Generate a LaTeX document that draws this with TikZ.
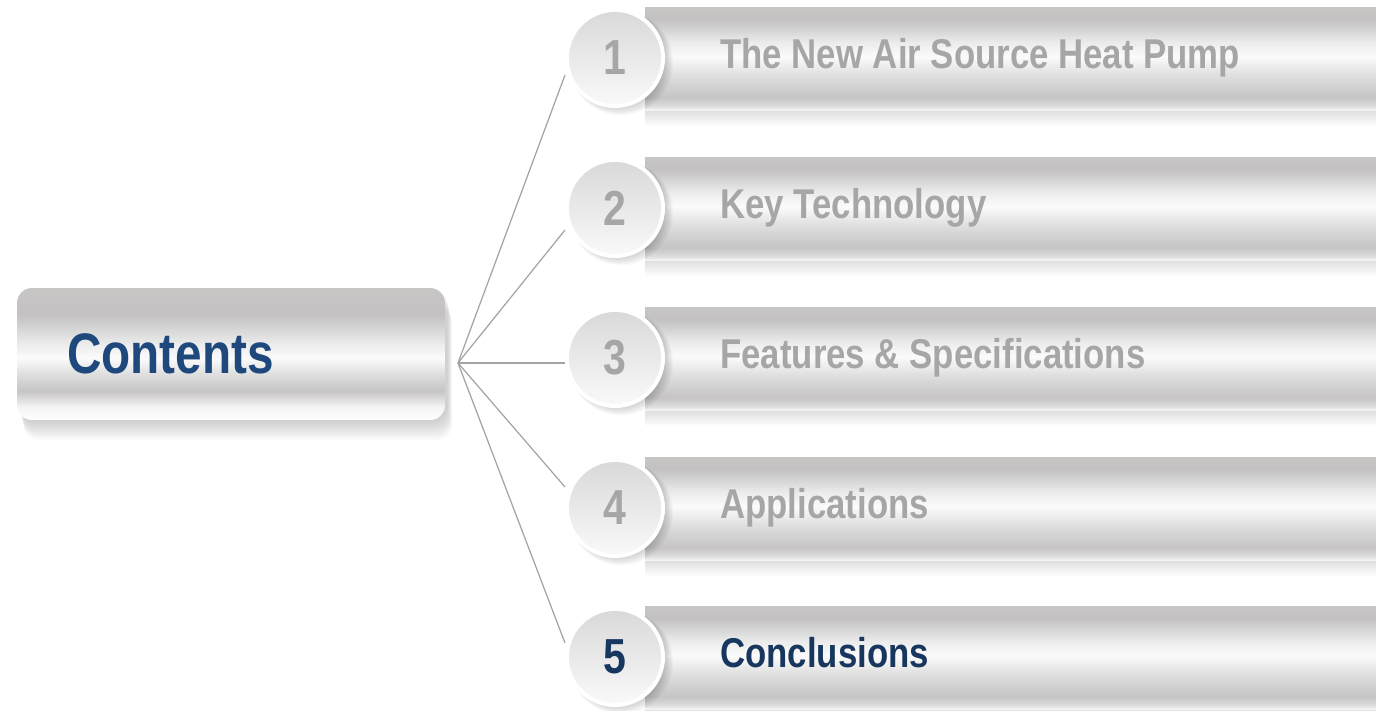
\documentclass[tikz,border=0pt]{standalone}
\usepackage{fontspec}
\setmainfont{Liberation Sans}
\newfontfamily\narrowfont[FakeStretch=0.835]{Liberation Sans}
\usepackage{xcolor}
\usetikzlibrary{positioning,calc}

\definecolor{itemgrey}{HTML}{A6A6A6}
\definecolor{titleblue}{HTML}{1F497D}
\definecolor{activeblue}{HTML}{17375E}
\definecolor{linegrey}{HTML}{A3A3A3}
\definecolor{shA}{HTML}{C8C5C5}
\definecolor{shB}{HTML}{C3C1C1}
\definecolor{shC}{HTML}{EBEBEB}
\definecolor{shD}{HTML}{FBFBFB}
\definecolor{shE}{HTML}{DFDFDF}
\definecolor{shF}{HTML}{C6C4C4}
\definecolor{shG}{HTML}{F4F4F4}
\definecolor{diskTop}{HTML}{D9D9D9}
\definecolor{diskBottom}{HTML}{F9F9F9}

\pgfdeclareverticalshading{barshade}{100bp}{color(0bp)=(shG); color(25bp)=(shG); color(27bp)=(shG!50!shF); color(31bp)=(shF); color(42bp)=(shE); color(51bp)=(shD); color(58bp)=(shC); color(69bp)=(shB); color(75bp)=(shA); color(100bp)=(shA)}
\pgfdeclareverticalshading{boxshade}{100bp}{color(0bp)=(white); color(25bp)=(white); color(30bp)=(shG); color(36bp)=(shF); color(42.5bp)=(shE); color(48.5bp)=(shD); color(54bp)=(shC); color(65bp)=(shB); color(75bp)=(shA); color(100bp)=(shA)}

\begin{document}
\begin{tikzpicture}[x=0.02cm, y=-0.02cm,
    contentsbox/.style={rounded corners=0.3cm, shading=boxshade, minimum width=8.56cm, minimum height=2.64cm,
      text width=6.56cm, inner xsep=1cm, align=left, text=titleblue,
      font=\narrowfont\bfseries\fontsize{32.5}{36}\selectfont},
    disk/.style={circle, minimum size=1.88cm, inner sep=0pt, top color=diskTop, bottom color=diskBottom,
      draw=white, line width=1pt, font=\narrowfont\bfseries\fontsize{28}{30}\selectfont},
    itemtext/.style={anchor=base west, inner sep=0pt, font=\narrowfont\bfseries\fontsize{23.7}{26}\selectfont},
    link/.style={draw=linegrey, line width=0.7pt}]
  \useasboundingbox (0,0) rectangle (1376,710);

  % shadow + box on the left
  \foreach \s in {2,4,...,20}
    \fill[black, opacity=0.018, rounded corners=0.3cm] (19+\s/4,288+\s) rectangle (447+\s/4,420+\s);
  \node[contentsbox] (contents) at (231,354) {Contents};
  \coordinate (hub) at (458,363);

  % bars
  \foreach \i/\yc in {1/58,2/208,3/358,4/508,5/657}{
    \foreach \s in {2,4,...,16}
      \fill[black, opacity=0.015] (645,\yc-50+\s) rectangle (1376,\yc+52+\s);
    \shade[shading=barshade] (645,\yc-51) rectangle (1376,\yc+52);
    \draw[white, line width=0.6pt] (645,\yc-52.5) -- (1376,\yc-52.5);
  }

  % circles, connectors and labels
  \foreach \i/\yc/\dy/\col/\txt in {1/58/17/itemgrey/The New Air Source Heat Pump,
                                   2/208/22/itemgrey/Key Technology,
                                   3/358/5/itemgrey/Features \& Specifications,
                                   4/508/-21/itemgrey/Applications,
                                   5/657/-14/activeblue/Conclusions}{
    \foreach \s in {1,2,...,10}
      \fill[black, opacity=0.022] (616+\s/2,\yc+\s/2) circle[radius=46+\s/1.6];
    \fill[white] (615,\yc) circle[radius=50];
    \node[disk, text=\col] (c\i) at (615,\yc) {\i};
    \coordinate (e\i) at (565,\yc+\dy);
    \draw[link] (hub) -- (e\i);
    \node[itemtext, text=\col] (t\i) at (720,\yc+10) {\txt};
  }
\end{tikzpicture}
\end{document}
